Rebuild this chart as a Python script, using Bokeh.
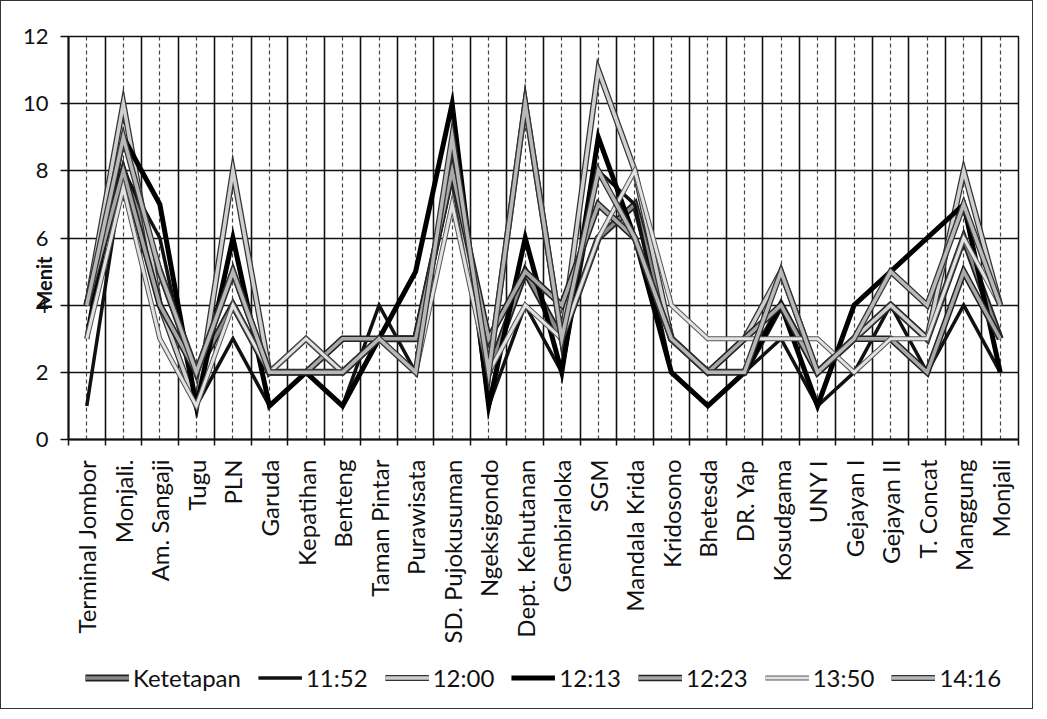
import math
from bokeh.plotting import figure
from bokeh.layouts import column
from bokeh.models import (FixedTicker, Legend, LegendItem, Grid, Range1d,
                          ColumnDataSource)
from bokeh.embed import file_html
from bokeh.resources import INLINE

stops = ["Terminal Jombor", "Monjali.", "Am. Sangaji", "Tugu", "PLN", "Garuda",
         "Kepatihan", "Benteng", "Taman Pintar", "Purawisata", "SD. Pujokusuman",
         "Ngeksigondo", "Dept. Kehutanan", "Gembiraloka", "SGM", "Mandala Krida",
         "Kridosono", "Bhetesda", "DR. Yap", "Kosudgama", "UNY I", "Gejayan I",
         "Gejayan II", "T. Concat", "Manggung", "Monjali"]

ketetapan = [4, 8, 5, 2, 4, 2, 2, 2, 3, 3, 8, 2, 5, 3, 6, 7, 3, 2, 2, 4, 2, 3, 4, 3, 6, 3]
t1152 = [1, 8, 6, 1, 3, 1, 2, 1, 4, 2, 9, 1, 4, 2, 8, 7, 2, 1, 2, 3, 1, 2, 4, 2, 4, 2]
t1200 = [4, 10, 4, 1, 8, 2, 3, 2, 3, 3, 8, 2, 10, 3, 11, 8, 3, 2, 3, 5, 2, 3, 4, 3, 8, 4]
t1213 = [3, 9, 7, 1, 6, 1, 2, 1, 3, 5, 10, 1, 6, 2, 9, 6, 2, 1, 2, 4, 1, 4, 5, 6, 7, 2]
t1223 = [4, 8, 4, 2, 5, 2, 2, 3, 3, 3, 8, 3, 5, 4, 7, 6, 3, 2, 3, 4, 2, 3, 3, 2, 5, 3]
t1350 = [3, 7.5, 3, 1, 4, 2, 3, 2, 3, 2, 7, 2, 4, 3, 6, 8, 4, 3, 3, 3, 3, 2, 3, 3, 6, 4]
t1416 = [4, 9, 5, 2, 5, 2, 2, 2, 3, 2, 9, 2, 10, 3, 8, 6, 3, 2, 2, 5, 2, 3, 5, 4, 7, 4]

series_names = ["Ketetapan", "11:52", "12:00", "12:13", "12:23", "13:50", "14:16"]
series_vals = [ketetapan, t1152, t1200, t1213, t1223, t1350, t1416]
# (outline colour, outline width, inner colour, inner width)
styles = [
    ("#222222", 7, "#8a8a8a", 3.5),
    ("#111111", 3.5, None, 0),
    ("#333333", 6, "#cfcfcf", 3.5),
    ("#000000", 5, None, 0),
    ("#222222", 6.5, "#a8a8a8", 3.5),
    ("#555555", 5, "#e2e2e2", 3),
    ("#333333", 6, "#b8b8b8", 3.5),
]

FONT = "Lato"
n = len(stops)
xs = [i + 0.5 for i in range(n)]

p = figure(frame_width=950, frame_height=403, output_backend="svg",
           toolbar_location=None,
           x_range=Range1d(0, n), y_range=Range1d(0, 12),
           min_border_left=67, min_border_right=14, min_border_top=35,
           min_border_bottom=0)
p.outline_line_color = "#111111"
p.outline_line_width = 1.5
p.background_fill_color = "white"
p.border_fill_color = "white"

# axes
p.xaxis.ticker = FixedTicker(ticks=xs, minor_ticks=list(range(n + 1)))
p.xaxis.major_label_overrides = {x: s for x, s in zip(xs, stops)}
p.xaxis.major_label_orientation = math.pi / 2
p.xaxis.major_tick_line_color = None
p.xaxis.major_tick_out = 0
p.xaxis.minor_tick_line_color = "#111111"
p.xaxis.minor_tick_line_width = 1.5
p.xaxis.minor_tick_out = 6
p.xaxis.minor_tick_in = 0
p.xaxis.axis_line_color = "#111111"
p.xaxis.axis_line_width = 2
p.xaxis.major_label_text_font = FONT
p.xaxis.major_label_text_font_size = "24px"
p.xaxis.major_label_text_color = "#111111"
p.xaxis.major_label_standoff = 14

p.yaxis.ticker = FixedTicker(ticks=[0, 2, 4, 6, 8, 10, 12])
p.yaxis.major_tick_out = 8
p.yaxis.major_tick_in = 0
p.yaxis.major_tick_line_color = "#111111"
p.yaxis.major_tick_line_width = 1.5
p.yaxis.minor_tick_line_color = None
p.yaxis.axis_line_color = "#111111"
p.yaxis.axis_line_width = 2
p.yaxis.major_label_text_font = FONT
p.yaxis.major_label_text_font_size = "22px"
p.yaxis.major_label_text_color = "#111111"
p.yaxis.major_label_standoff = 12
p.yaxis.axis_label = "Menit" + "\u2002" * 9
p.yaxis.axis_label_text_font = FONT
p.yaxis.axis_label_text_font_style = "bold"
p.yaxis.axis_label_text_font_size = "20px"
p.yaxis.axis_label_text_color = "#111111"
p.yaxis.axis_label_standoff = -36

# grids
p.xgrid.grid_line_color = None
p.ygrid.grid_line_color = "#111111"
p.ygrid.grid_line_width = 1.6
p.add_layout(Grid(dimension=0, ticker=FixedTicker(ticks=list(range(n + 1))),
                  grid_line_color="#111111", grid_line_width=1.6))
p.add_layout(Grid(dimension=0, ticker=FixedTicker(ticks=xs),
                  grid_line_color="#444444", grid_line_width=1.2,
                  grid_line_dash="4 3"))

# legend strip (separate figure below the chart; its view range is empty of data)
q = figure(width=1031, height=62, output_backend="svg", toolbar_location=None,
           x_range=Range1d(1000, 1001), y_range=Range1d(1000, 1001),
           min_border=0, outline_line_color=None)
q.axis.visible = False
q.grid.visible = False
q.background_fill_color = "white"
q.border_fill_color = "white"

items = []
for name, vals, (oc, ow, ic, iw) in zip(series_names, series_vals, styles):
    src = ColumnDataSource(dict(x=xs, y=vals))
    p.line("x", "y", source=src, line_color=oc, line_width=ow, line_join="miter")
    if ic is not None:
        p.line("x", "y", source=src, line_color=ic, line_width=iw,
               line_join="miter")
    rs = [q.line("x", "y", source=src, line_color=oc, line_width=ow)]
    if ic is not None:
        rs.append(q.line("x", "y", source=src, line_color=ic, line_width=iw))
    items.append(LegendItem(label=name, renderers=rs))

legend = Legend(items=items, orientation="horizontal", location="center",
                label_text_font=FONT, label_text_font_size="24px",
                label_text_color="#111111", glyph_width=44, glyph_height=24,
                spacing=17, label_standoff=4, border_line_color=None,
                background_fill_alpha=0, padding=0, margin=0)
q.add_layout(legend, "center")

layout = column(p, q, spacing=0, styles={"border": "1.5px solid #333"})

open("out.html", "w").write(file_html(layout, INLINE))
